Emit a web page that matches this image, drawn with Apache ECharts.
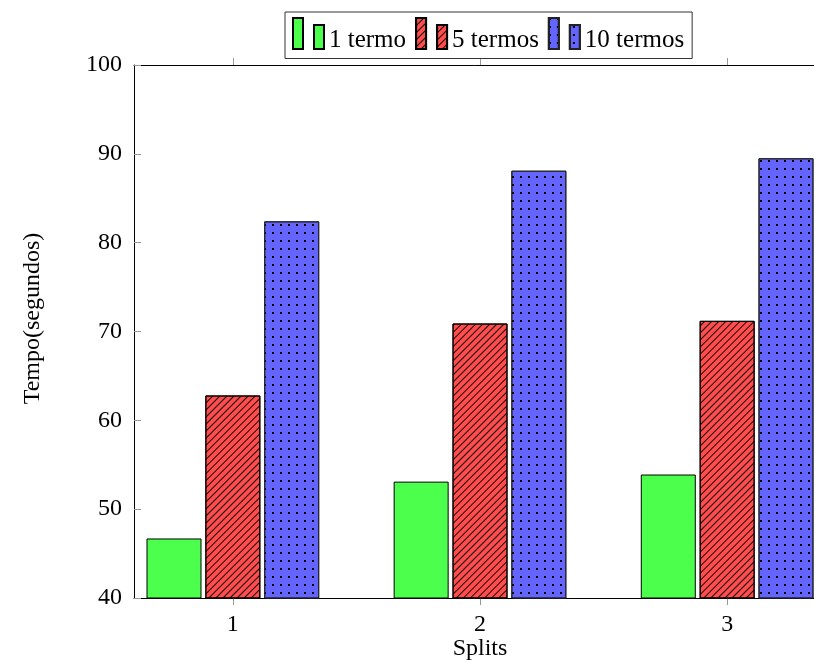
<!DOCTYPE html>
<html>
<head>
<meta charset="utf-8">
<script src="https://cdn.jsdelivr.net/npm/echarts@6/dist/echarts.min.js"></script>
<style>
    html, body { margin: 0; padding: 0; background: #fff; }
    #echarts { width: 814px; height: 662px; }
</style>
</head>
<body>
<div id="echarts"></div>
<script>
// 数据
var Splits = [1, 2, 3];
var SeriesNames = ['1 termo', '5 termos', '10 termos'];
var Termo1 = [46.7, 53.1, 53.9];
var Termos5 = [62.8, 70.9, 71.2];
var Termos10 = [82.4, 88.1, 89.5];
var YTicks = [40, 50, 60, 70, 80, 90, 100];

var FONT = 'Liberation Serif';
// 图例图标: 两根柱子
var LEGEND_ICON = 'path://M0,0h10v31h-10z M21,7h10v24h-10z';

function pairs(vals) {
    var out = [];
    for (var i = 0; i < Splits.length; i++) {
        out.push([Splits[i], vals[i]]);
    }
    return out;
}

var myChart = echarts.init(document.getElementById('echarts'));

var option = {
    backgroundColor: '#fff',
    animation: false,
    textStyle: { fontFamily: FONT },
    legend: {
        left: 285,
        top: 12,
        padding: [5, 8, 6, 7],
        itemGap: 9,
        itemWidth: 31,
        itemHeight: 31,
        borderColor: '#333',
        borderWidth: 1,
        formatter: '{t|{name}}',
        textStyle: {
            fontFamily: FONT,
            fontSize: 25,
            color: '#000',
            rich: {
                t: {
                    fontFamily: FONT,
                    fontSize: 25,
                    color: '#000',
                    padding: [13, 0, 0, 0]
                }
            }
        },
        data: [
            { name: SeriesNames[0], icon: LEGEND_ICON },
            { name: SeriesNames[1], icon: LEGEND_ICON },
            { name: SeriesNames[2], icon: LEGEND_ICON }
        ]
    },
    grid: {
        left: 134,
        top: 65,
        right: -12,
        bottom: 64,
        containLabel: false,
        outerBoundsMode: 'none'
    },
    xAxis: [
        { // 下方 x 轴
            type: 'value',
            position: 'bottom',
            min: 0.6,
            max: 3.4,
            name: 'Splits',
            nameLocation: 'middle',
            nameGap: 39,
            nameMoveOverlap: false,
            nameTextStyle: { fontFamily: FONT, fontSize: 24, color: '#000' },
            axisLine: { show: true, lineStyle: { color: '#000', width: 1 } },
            axisTick: {
                show: true,
                inside: false,
                length: 7,
                customValues: Splits,
                lineStyle: { color: '#999' }
            },
            axisLabel: {
                customValues: Splits,
                margin: 15,
                fontFamily: FONT,
                fontSize: 24,
                color: '#000'
            },
            splitLine: { show: false }
        },
        { // 上方边框
            type: 'value',
            position: 'top',
            min: 0.6,
            max: 3.4,
            axisLine: { show: true, lineStyle: { color: '#000', width: 1 } },
            axisTick: {
                show: true,
                inside: false,
                length: 7,
                customValues: Splits,
                lineStyle: { color: '#999' }
            },
            axisLabel: { show: false },
            splitLine: { show: false }
        }
    ],
    yAxis: [
        {
            type: 'value',
            min: 40,
            max: 100,
            interval: 10,
            name: 'Tempo(segundos)',
            nameLocation: 'middle',
            nameGap: 89,
            nameRotate: 90,
            nameTextStyle: {
                fontFamily: FONT,
                fontSize: 24,
                color: '#000',
                padding: [0, 0, 0, 26]
            },
            axisLine: { show: true, lineStyle: { color: '#000', width: 1 } },
            axisTick: {
                show: true,
                inside: true,
                length: 7,
                lineStyle: { color: '#999' }
            },
            axisLabel: {
                margin: 12,
                fontFamily: FONT,
                fontSize: 24,
                color: '#000',
                formatter: function(v) {
                    return YTicks.indexOf(v) >= 0 ? String(v) : '';
                }
            },
            splitLine: { show: false }
        }
    ],
    series: [
        {
            name: SeriesNames[0],
            type: 'bar',
            barWidth: 55,
            barGap: '7%',
            itemStyle: {
                color: '#4dff4d',
                borderColor: '#000',
                borderWidth: 1
            },
            data: pairs(Termo1)
        }, {
            name: SeriesNames[1],
            type: 'bar',
            barWidth: 55,
            barGap: '7%',
            itemStyle: {
                color: '#ff4d4d',
                borderColor: '#000',
                borderWidth: 1,
                decal: {
                    symbol: 'rect',
                    symbolSize: 1,
                    dashArrayX: [1, 0],
                    dashArrayY: [1, 3.3],
                    rotation: -Math.PI / 4,
                    color: 'rgba(0, 0, 0, 0.9)'
                }
            },
            data: pairs(Termos5)
        }, {
            name: SeriesNames[2],
            type: 'bar',
            barWidth: 55,
            barGap: '7%',
            itemStyle: {
                color: '#6464ff',
                borderColor: '#222',
                borderWidth: 1,
                decal: {
                    symbol: 'rect',
                    symbolSize: 1,
                    dashArrayX: [2, 6],
                    dashArrayY: [2, 6],
                    rotation: 0,
                    color: '#000'
                }
            },
            data: pairs(Termos10)
        }
    ]
};

myChart.setOption(option, true);
</script>
</body>
</html>
